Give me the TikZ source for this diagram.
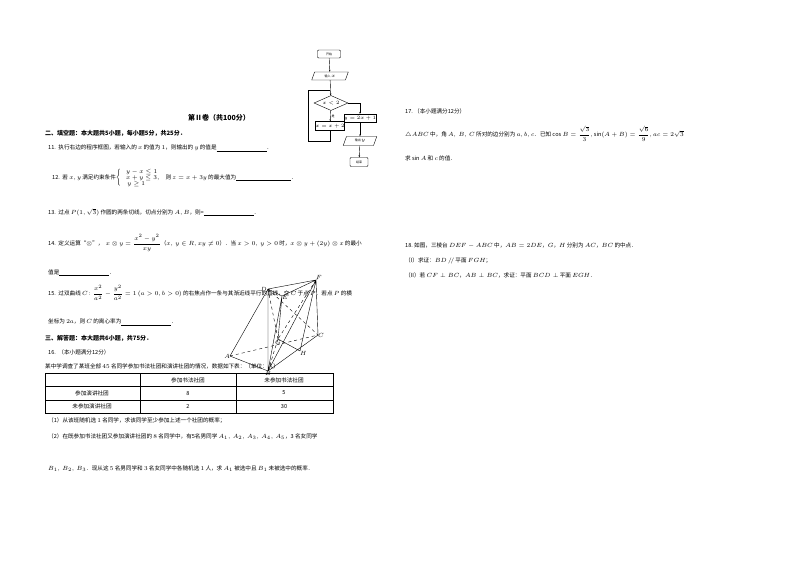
\documentclass[tikz,border=0pt]{standalone}
\usepackage{fontspec}
\usepackage{amsmath,amssymb}
\setmainfont{Noto Sans CJK SC}
\usetikzlibrary{shapes.geometric,arrows.meta}
\begin{document}
\begin{tikzpicture}[x=1pt,y=-1pt,
  t/.style={anchor=west,inner sep=0pt,font=\fontsize{5.6}{6}\selectfont},
  hd/.style={anchor=west,inner sep=0pt,font=\fontsize{6}{7}\selectfont\bfseries},
  fc/.style={draw,line width=0.4pt,inner sep=0pt,font=\fontsize{3}{3}\selectfont},
  ar/.style={-{Stealth[length=2pt]},line width=0.4pt},
  fig/.style={line width=0.4pt},
  lbl/.style={inner sep=0pt,font=\fontsize{6.5}{7}\selectfont\itshape}]
\useasboundingbox (0,0) rectangle (800,565);
\fill[white] (0,0) rectangle (800,565);
% flowchart
\node[fc,rounded corners=1pt,minimum width=23,minimum height=8] (st) at (329,54) {开始};
\node[fc,trapezium,trapezium left angle=70,trapezium right angle=110,minimum width=22,minimum height=8] (in) at (330,76) {输入 $x$};
\node[fc,diamond,aspect=2.3,minimum width=34,minimum height=15] (dm) at (331,103) {$x<2$};
\node[fc,minimum width=26,minimum height=9] (lb) at (330,126) {$x=x+2$};
\node[fc,minimum width=27,minimum height=8] (rb) at (360,118) {$y=2x+1$};
\node[fc,trapezium,trapezium left angle=70,trapezium right angle=110,minimum width=24,minimum height=9] (out) at (360,141) {输出 $y$};
\node[fc,rounded corners=1pt,minimum width=18,minimum height=9] (en) at (359,162) {结束};
\coordinate (lp) at (330,90);
\draw[ar] (st) -- (in);
\draw[ar] (in) -- (dm);
\draw[ar] (dm) -- node[right,inner sep=1pt,font=\fontsize{3}{3}\selectfont]{是} (lb);
\draw[ar] (dm.east) -| (rb.north);
\draw[ar] (rb) -- (out);
\draw[ar] (out) -- (en);
\draw[fig] (lb.south) -- ++(0,10) -| (308,90) -- (lp);
% left column
\node[anchor=center,inner sep=0pt,font=\fontsize{7}{8}\selectfont\bfseries] (t0) at (219,118) {第Ⅱ卷（共100分）};
\node[hd] (h1) at (45,133) {二、填空题：本大题共5小题，每小题5分，共25分．};
\node[t] (q11) at (48,148) {11.\ \ 执行右边的程序框图，若输入的 $x$ 的值为 $1$，则输出的 $y$ 的值是\underline{\hspace{50pt}}．};
\node[t] (q12) at (52,178) {12.\ \ 若 $x,y$ 满足约束条件$\left\{\begin{array}{l}y-x\le1\\ x+y\le3,\\ \ y\ge1\end{array}\right.$则 $z=x+3y$ 的最大值为\underline{\hspace{55pt}}．};
\node[t] (q13) at (48,212) {13.\ \ 过点 $P(1,\sqrt3)$ 作圆的两条切线，切点分别为 $A,B$，则=\underline{\hspace{50pt}}．};
\node[t] (q14) at (48,243) {14.\ \ 定义运算“$\otimes$”，\ \ $x\otimes y=\dfrac{x^2-y^2}{xy}$（$x,\ y\in R,xy\neq0$）．当 $x>0,\ y>0$ 时，$x\otimes y+(2y)\otimes x$ 的最小};
\node[t] (q14b) at (48,273) {值是\underline{\hspace{50pt}}．};
\node[t] (q15) at (48,293) {15.\ \ 过双曲线 $C\!:\dfrac{x^2}{a^2}-\dfrac{y^2}{a^2}=1\,(a>0,b>0)$ 的右焦点作一条与其渐近线平行的直线，交 $C$ 于点 $P$．若点 $P$ 的横};
\node[t] (q15b) at (48,322) {坐标为 $2a$，则 $C$ 的离心率为\underline{\hspace{50pt}}．};
\node[hd] (h2) at (45,338) {三、解答题：本大题共6小题，共75分．};
\node[t] (q16) at (48,352) {16.\ \ （本小题满分12分）};
\node[t] (q16a) at (45,366) {某中学调查了某班全部 $45$ 名同学参加书法社团和演讲社团的情况，数据如下表：（单位：人）};
% table
\draw[fig] (45,373) rectangle (333,413);
\draw[fig] (45,386) -- (333,386) (45,400) -- (333,400) (140,373) -- (140,413) (236,373) -- (236,413);
\node[t,anchor=center] (c1) at (188,380) {参加书法社团};
\node[t,anchor=center] (c2) at (284,380) {未参加书法社团};
\node[t,anchor=center] (r1) at (92,393) {参加演讲社团};
\node[t,anchor=center] (r2) at (92,406) {未参加演讲社团};
\node[t,anchor=center] (v1) at (188,393) {8};
\node[t,anchor=center] (v2) at (284,393) {5};
\node[t,anchor=center] (v3) at (188,406) {2};
\node[t,anchor=center] (v4) at (284,406) {30};
\node[t] (p1) at (48,421) {（1）从该班随机选 $1$ 名同学，求该同学至少参加上述一个社团的概率；};
\node[t] (p2) at (48,437) {（2）在既参加书法社团又参加演讲社团的 $8$ 名同学中，有5名男同学 $A_1,\ A_2,\ A_3,\ A_4,\ A_5$，3 名女同学};
\node[t] (p3) at (48,469) {$B_1,\ B_2,\ B_3$．现从这 $5$ 名男同学和 $3$ 名女同学中各随机选 $1$ 人，求 $A_1$ 被选中且 $B_1$ 未被选中的概率．};
% solid figure
\coordinate (A) at (230,356); \coordinate (B) at (268,371); \coordinate (C) at (318,335);
\coordinate (D) at (268,289); \coordinate (E) at (282,296); \coordinate (F) at (316,280);
\coordinate (G) at (278,339); \coordinate (H) at (300,351);
\draw[fig] (A) -- (B) -- (C) (D) -- (E) -- (F) -- (D) (A) -- (D) (B) -- (D) (B) -- (E) (C) -- (F) (B) -- (F) (G) -- (H) (F) -- (H) (E) -- (G);
\draw[fig,dashed] (A) -- (C) (D) -- (C) (F) -- (G) (D) -- (G) (B) -- (G);
\node[lbl,anchor=south west] at (F) {$F$};
\node[lbl,anchor=east] at ([xshift=-1]D) {$D$};
\node[lbl,anchor=north west] at ([yshift=1]E) {$E$};
\node[lbl,anchor=west] at (C) {$C$};
\node[lbl,anchor=east] at (A) {$A$};
\node[lbl,anchor=north] at (B) {$B$};
\node[lbl,anchor=north] at ([yshift=-1]G) {$G$};
\node[lbl,anchor=north west] at (H) {$H$};
% right column
\node[t] (q17) at (405,111) {17.\ （本小题满分12分）};
\node[t] (q17a) at (405,134) {$\triangle ABC$ 中，角 $A,\ B,\ C$ 所对的边分别为 $a,b,c$．已知 $\cos B=\dfrac{\sqrt3}{3},\sin(A+B)=\dfrac{\sqrt6}{9},ac=2\sqrt3$};
\node[t] (q17b) at (405,158) {求 $\sin A$ 和 $c$ 的值．};
\node[t] (q18) at (405,246) {18.\ 如图，三棱台 $DEF-ABC$ 中，$AB=2DE$，$G$，$H$ 分别为 $AC$，$BC$ 的中点．};
\node[t] (q18a) at (405,261) {（I）求证：$BD\,/\!/$ 平面 $FGH$；};
\node[t] (q18b) at (405,275) {（II）若 $CF\perp BC$，$AB\perp BC$，求证：平面 $BCD\perp$ 平面 $EGH$．};
\end{tikzpicture}
\end{document}
